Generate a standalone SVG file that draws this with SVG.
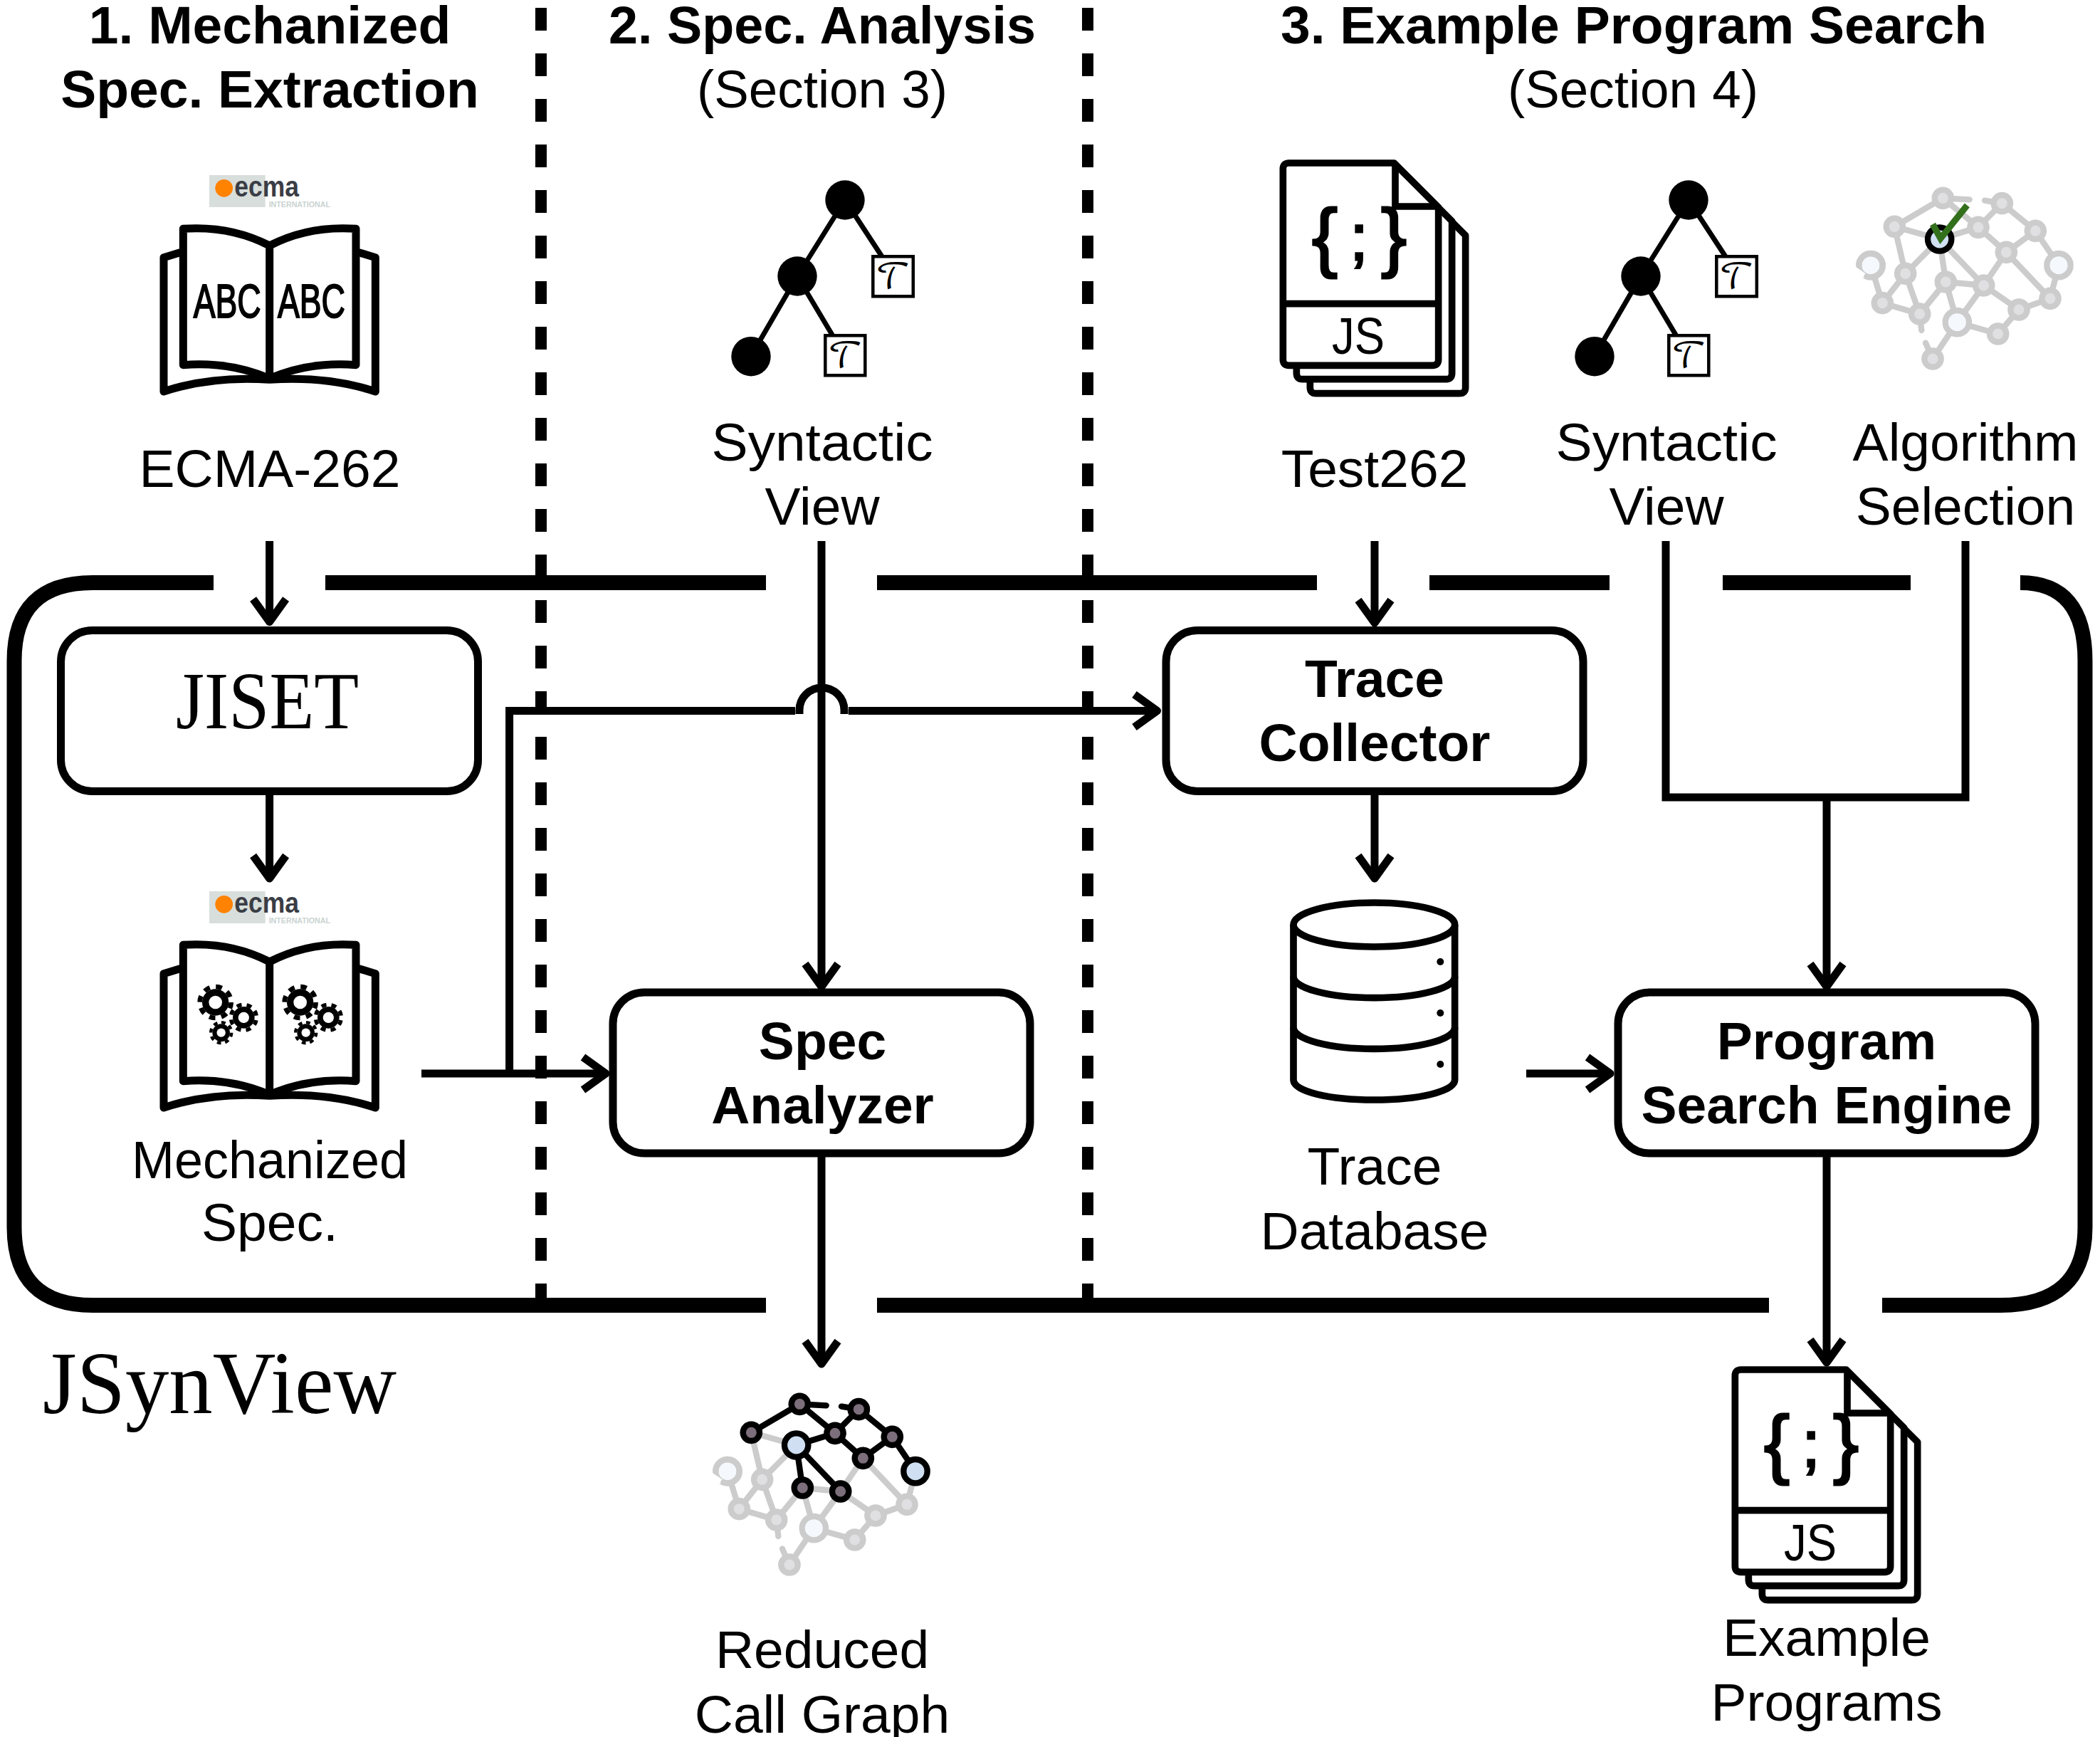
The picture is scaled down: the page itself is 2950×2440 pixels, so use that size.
<svg xmlns="http://www.w3.org/2000/svg" xmlns:xlink="http://www.w3.org/1999/xlink" width="2950" height="2440" viewBox="0 0 2950 2440">
<style>
text{font-family:"Liberation Sans",Arial,sans-serif;fill:#000}
.t{font-size:75px;text-anchor:middle}
.b{font-size:75px;text-anchor:middle;font-weight:bold}
.logo{font-family:"Liberation Serif","Times New Roman",serif}
.n{fill:#fff;stroke:#000;stroke-width:11}
.frame{fill:none;stroke:#000;stroke-width:21}
.dash{stroke:#000;stroke-width:16;stroke-dasharray:32 32}
.c{fill:none;stroke:#000;stroke-width:11}
.a{marker-end:url(#arrow)}
.ic{fill:#fff;stroke:#000;stroke-width:33;stroke-linejoin:round;stroke-linecap:round}
.doc{fill:#fff;stroke:#000;stroke-width:29;stroke-linejoin:round}
.tree{stroke:#000;stroke-width:7}
.tbox{fill:#fff;stroke:#000;stroke-width:4.5}
.tau{font-family:"DejaVu Math TeX Gyre","DejaVu Serif",serif;font-size:48px;text-anchor:middle}
.gl{stroke:#ccc;stroke-width:25;fill:none;stroke-linecap:round}
.gn{stroke:#ccc;stroke-width:25;fill:#e0dfe1}
.gb{stroke:#ccc;stroke-width:25;fill:#f5f9fe}
.bl{stroke:#000;stroke-width:25;fill:none;stroke-linecap:round}
.bn{stroke:#000;stroke-width:25;fill:#7d6e7b}
.bb{stroke:#000;stroke-width:25;fill:#d0e0f2}
.ecma{font-size:122px;font-weight:bold;fill:#3a3d45}
.intl{font-size:33px;font-weight:bold;fill:#c9d3d1}
.abc{font-size:200px;stroke:#000;stroke-width:6}
.js{font-size:72px}
.br{font-size:108px;text-anchor:middle;stroke:#000;stroke-width:3}
.sc{font-size:90px;text-anchor:middle;stroke:#000;stroke-width:3}
</style>
<defs>
<marker id="arrow" markerUnits="userSpaceOnUse" viewBox="-45 -32 60 64" refX="0" refY="0" markerWidth="60" markerHeight="64" orient="auto">
<path d="M-32 -23L0 0L-32 23" fill="none" stroke="#000" stroke-width="11" stroke-linejoin="round"/>
</marker>
<g id="book">
<path class="ic" d="M216 405L150 425V990C300 940 450 930 596 940C742 930 892 940 1042 990V425L976 405"/>
<path class="ic" d="M596 375C480 315 360 295 232 304V878C360 868 480 885 596 935C712 885 832 868 960 878V304C832 295 712 315 596 375Z"/>
<path class="ic" fill="none" d="M596 375V935"/>
</g>
<g id="logo-shape">
<rect x="342" y="78" width="236" height="135" fill="#d8dedc"/>
<circle cx="404" cy="133" r="37" fill="#ff8200"/>
</g>
<g id="gear">
<circle r="56" fill="#000"/>
<circle r="66" fill="none" stroke="#000" stroke-width="20" stroke-dasharray="25.9 25.9"/>
<circle r="28" fill="#fff"/>
</g>
<g id="gears">
<use xlink:href="#gear" href="#gear" transform="translate(368 546)"/>
<use xlink:href="#gear" href="#gear" transform="translate(487 610) scale(.82) rotate(12)"/>
<use xlink:href="#gear" href="#gear" transform="translate(392 674) scale(.66)"/>
</g>
<path id="docshape" class="doc" d="M67 82Q67 57 92 57H535L722 244V885Q722 910 697 910H92Q67 910 67 885Z"/>
<g id="docs">
<use xlink:href="#docshape" href="#docshape" transform="translate(114 118)"/>
<use xlink:href="#docshape" href="#docshape" transform="translate(57 58)"/>
<use xlink:href="#docshape" href="#docshape"/>
<path d="M540 57V240H722M67 650H722" fill="none" stroke="#000" stroke-width="29"/>
</g>
<g id="brain">
<path class="gl" d="M418 85L214 205M418 85L530 91M667 107L594 95M418 85L567 208M667 107L567 208M667 107L808 223M214 205L404 258M404 258L567 208M214 205L260 403M404 258L260 403M404 258L430 438M404 258L590 453M567 208L685 313M808 223L685 313M808 223L906 368M685 313L590 453M685 313L870 508M906 368L870 508M114 368L163 527M260 403L163 527M260 403L320 573M430 438L590 453M430 438L320 573M430 438L478 608M590 453L738 555M590 453L478 608M163 527L320 573M870 508L738 555M738 555L650 657M478 608L650 657M478 608L375 762M320 573L328 642M375 762L345 695"/>
<circle class="gb" cx="114" cy="368" r="50"/>
<path d="M46 420L100 420L100 408L46 372Z" fill="#fff"/>
<path class="gl" d="M64 368A50 50 0 0 1 164 368A50 50 0 0 1 97 415"/>
<circle class="gn" cx="418" cy="85" r="35"/><circle class="gn" cx="667" cy="107" r="35"/><circle class="gn" cx="214" cy="205" r="35"/><circle class="gn" cx="567" cy="208" r="35"/><circle class="gn" cx="808" cy="223" r="35"/><circle class="gn" cx="685" cy="313" r="35"/><circle class="gb" cx="906" cy="368" r="50"/><circle class="gn" cx="260" cy="403" r="35"/><circle class="gn" cx="430" cy="438" r="35"/><circle class="gn" cx="590" cy="453" r="35"/><circle class="gn" cx="163" cy="527" r="35"/><circle class="gn" cx="870" cy="508" r="35"/><circle class="gn" cx="320" cy="573" r="35"/><circle class="gn" cx="738" cy="555" r="35"/><circle class="gb" cx="478" cy="608" r="50"/><circle class="gn" cx="650" cy="657" r="35"/><circle class="gn" cx="375" cy="762" r="35"/>
</g>
</defs>

<rect width="2950" height="2440" fill="#fff"/>

<g id="frame">
<path class="frame" d="M300 818.5H130Q20 818.5 20 928V1724Q20 1833.5 130 1833.5H1076M1232 1833.5H2485M2644 1833.5H2810Q2929 1833.5 2929 1724V928Q2929 818.5 2838 818.5M457 818.5H1076M1232 818.5H1850M2008 818.5H2261M2420 818.5H2684"/>
<line class="dash" x1="760" y1="11" x2="760" y2="1833"/>
<line class="dash" x1="1528" y1="11" x2="1528" y2="1833"/>
<text class="logo" x="60" y="1985" font-size="125" textLength="497" lengthAdjust="spacingAndGlyphs">JSynView</text>
</g>

<g id="titles">
<text class="b" x="379" y="61">1. Mechanized</text>
<text class="b" x="379" y="151">Spec. Extraction</text>
<text class="b" x="1155" y="61" textLength="600" lengthAdjust="spacingAndGlyphs">2. Spec. Analysis</text>
<text class="t" x="1155" y="151" textLength="352" lengthAdjust="spacingAndGlyphs">(Section 3)</text>
<text class="b" x="2295" y="61">3. Example Program Search</text>
<text class="t" x="2294" y="151" textLength="352" lengthAdjust="spacingAndGlyphs">(Section 4)</text>
</g>

<g id="ecma262">
<g transform="translate(180 220) scale(.33333)">
<use xlink:href="#logo-shape" href="#logo-shape"/>
<text class="ecma" x="448" y="168" textLength="272" lengthAdjust="spacingAndGlyphs">ecma</text>
<text class="intl" x="593" y="213" textLength="259" lengthAdjust="spacingAndGlyphs">INTERNATIONAL</text>
<use xlink:href="#book" href="#book"/>
<text class="abc" x="275" y="678" textLength="285" lengthAdjust="spacingAndGlyphs">ABC</text>
<text class="abc" x="630" y="678" textLength="285" lengthAdjust="spacingAndGlyphs">ABC</text>
</g>
<text class="t" x="379" y="684">ECMA-262</text>
</g>

<g id="view1">
<line class="tree" x1="1187" y1="281" x2="1120" y2="388"/><line class="tree" x1="1187" y1="281" x2="1240" y2="362"/><line class="tree" x1="1120" y1="388" x2="1055" y2="500"/><line class="tree" x1="1120" y1="388" x2="1170" y2="472"/>
<circle cx="1187" cy="281" r="27.7"/><circle cx="1120" cy="388" r="27.7"/><circle cx="1055" cy="500.7" r="27.7"/>
<rect class="tbox" x="1226.3" y="360.3" width="56.5" height="56"/><rect class="tbox" x="1159.3" y="471.3" width="56" height="56"/>
<text class="tau" x="1254.5" y="405">𝒯</text>
<text class="tau" x="1187.5" y="516">𝒯</text>
<text class="t" x="1155" y="647" textLength="311" lengthAdjust="spacingAndGlyphs">Syntactic</text>
<text class="t" x="1155" y="737">View</text>
</g>

<g id="test262">
<g transform="translate(1780 210) scale(.33333)">
<use xlink:href="#docs" href="#docs"/>
</g>
<text class="br" x="1861" y="369">{</text>
<text class="sc" x="1909" y="365">;</text>
<text class="br" x="1958" y="369">}</text>
<text class="js" x="1871" y="497" textLength="74" lengthAdjust="spacingAndGlyphs">JS</text>
<text class="t" x="1931" y="684">Test262</text>
</g>

<g id="view2">
<line class="tree" x1="2372" y1="281" x2="2305" y2="388"/><line class="tree" x1="2372" y1="281" x2="2425" y2="362"/><line class="tree" x1="2305" y1="388" x2="2240" y2="500"/><line class="tree" x1="2305" y1="388" x2="2355" y2="472"/>
<circle cx="2372" cy="281" r="27.7"/><circle cx="2305" cy="388" r="27.7"/><circle cx="2240" cy="500.7" r="27.7"/>
<rect class="tbox" x="2411.3" y="360.3" width="56.5" height="56"/><rect class="tbox" x="2344.3" y="471.3" width="56" height="56"/>
<text class="tau" x="2439.5" y="405">𝒯</text>
<text class="tau" x="2372.5" y="516">𝒯</text>
<text class="t" x="2341" y="647" textLength="311" lengthAdjust="spacingAndGlyphs">Syntactic</text>
<text class="t" x="2341" y="737">View</text>
</g>

<g id="algorithm">
<g transform="translate(2590 250) scale(.33333)">
<use xlink:href="#brain" href="#brain"/>
<circle class="bb" cx="404" cy="258" r="50"/>
<path d="M375 195L408 255L520 115" fill="none" stroke="#33701c" stroke-width="27"/>
</g>
<text class="t" x="2761" y="647">Algorithm</text>
<text class="t" x="2761" y="737">Selection</text>
</g>

<g id="jiset">
<rect class="n" x="85.5" y="885.5" width="586" height="226" rx="44"/>
<text class="logo" x="247" y="1023" font-size="115" textLength="257" lengthAdjust="spacingAndGlyphs">JISET</text>
</g>

<g id="mechanized">
<g transform="translate(180 1226) scale(.33333)">
<use xlink:href="#logo-shape" href="#logo-shape"/>
<text class="ecma" x="448" y="168" textLength="272" lengthAdjust="spacingAndGlyphs">ecma</text>
<text class="intl" x="593" y="213" textLength="259" lengthAdjust="spacingAndGlyphs">INTERNATIONAL</text>
<use xlink:href="#book" href="#book"/>
<use xlink:href="#gears" href="#gears"/>
<use xlink:href="#gears" href="#gears" transform="translate(357 0)"/>
</g>
<text class="t" x="379" y="1655" textLength="388" lengthAdjust="spacingAndGlyphs">Mechanized</text>
<text class="t" x="379" y="1743">Spec.</text>
</g>

<g id="collector">
<rect class="n" x="1638" y="885.5" width="586" height="226" rx="44"/>
<text class="b" x="1931" y="979">Trace</text>
<text class="b" x="1931" y="1069">Collector</text>
</g>

<g id="analyzer">
<rect class="n" x="861" y="1394" width="586" height="226" rx="44"/>
<text class="b" x="1155.5" y="1488">Spec</text>
<text class="b" x="1155.5" y="1578">Analyzer</text>
</g>

<g id="database">
<g transform="translate(1780 1250) scale(.33333)" fill="#fff" stroke="#000" stroke-width="29">
<path d="M111 147V800C111 850 262 885 451 885C640 885 791 850 791 800V147"/>
<path fill="none" d="M111 365C111 415 262 455 451 455C640 455 791 415 791 365M111 580C111 630 262 670 451 670C640 670 791 630 791 580"/>
<ellipse cx="451" cy="147" rx="340" ry="93"/>
<circle cx="730" cy="303" r="15" fill="#000" stroke="none"/><circle cx="730" cy="519" r="15" fill="#000" stroke="none"/><circle cx="730" cy="735" r="15" fill="#000" stroke="none"/>
</g>
<text class="t" x="1931" y="1664">Trace</text>
<text class="t" x="1931" y="1755">Database</text>
</g>

<g id="engine">
<rect class="n" x="2273" y="1394" width="586" height="226" rx="44"/>
<text class="b" x="2566" y="1488">Program</text>
<text class="b" x="2566" y="1578">Search Engine</text>
</g>

<g id="reduced">
<g transform="translate(984 1944) scale(.33333)">
<use xlink:href="#brain" href="#brain"/>
<path class="bl" d="M214 205L418 85M418 85L530 91M667 107L594 95M418 85L567 208M667 107L567 208M667 107L808 223M567 208L685 313M808 223L685 313M404 258L567 208M808 223L906 368M404 258L430 438M404 258L590 453"/>
<circle class="bn" cx="418" cy="85" r="35"/><circle class="bn" cx="667" cy="107" r="35"/><circle class="bn" cx="214" cy="205" r="35"/><circle class="bn" cx="567" cy="208" r="35"/><circle class="bn" cx="808" cy="223" r="35"/><circle class="bn" cx="685" cy="313" r="35"/><circle class="bn" cx="430" cy="438" r="35"/><circle class="bn" cx="590" cy="453" r="35"/>
<circle class="bb" cx="404" cy="258" r="50"/><circle class="bb" cx="906" cy="368" r="50"/>
</g>
<text class="t" x="1155" y="2343">Reduced</text>
<text class="t" x="1155" y="2434">Call Graph</text>
</g>

<g id="examples">
<g transform="translate(2415 1905) scale(.33333)">
<use xlink:href="#docs" href="#docs"/>
</g>
<text class="br" x="2496" y="2064">{</text>
<text class="sc" x="2544" y="2060">;</text>
<text class="br" x="2593" y="2064">}</text>
<text class="js" x="2506" y="2192" textLength="74" lengthAdjust="spacingAndGlyphs">JS</text>
<text class="t" x="2566" y="2326">Example</text>
<text class="t" x="2566" y="2417">Programs</text>
</g>

<g id="connectors">
<path class="c a" d="M378.6 760V873.5"/>
<path class="c a" d="M378.6 1116V1234"/>
<path class="c a" d="M592 1508H851"/>
<path class="c" d="M715.6 1508V998.5H1117"/>
<path class="c" d="M1123 1003V997.5A31.5 31.5 0 0 1 1186 997.5V1003"/>
<path class="c a" d="M1192 998.5H1625.5"/>
<path class="c a" d="M1154 760V1386"/>
<path class="c a" d="M1931 760V875"/>
<path class="c a" d="M1931 1116V1234"/>
<path class="c a" d="M2144 1508H2262"/>
<path class="c" d="M2340 760V1120H2761V760"/>
<path class="c a" d="M2566 1120V1386"/>
<path class="c a" d="M1154 1625V1916"/>
<path class="c a" d="M2566 1625V1914"/>
</g>
</svg>
